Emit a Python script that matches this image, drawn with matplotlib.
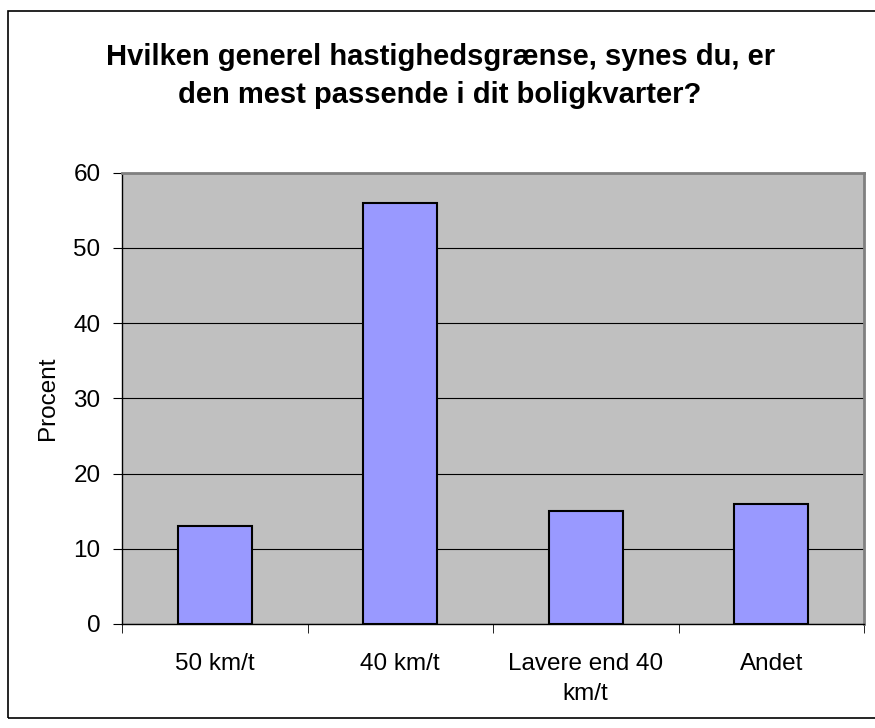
import matplotlib
matplotlib.use("Agg")
import matplotlib.pyplot as plt
from matplotlib.patches import Rectangle
import numpy as np

categories = ["50 km/t", "40 km/t", "Lavere end 40\nkm/t", "Andet"]
values = [13, 56, 15, 16]
yticks = [0, 10, 20, 30, 40, 50, 60]
title = "Hvilken generel hastighedsgrænse, synes du, er\nden mest passende i dit boligkvarter?"
ylabel = "Procent"

plt.rcParams['font.family'] = ['Liberation Sans', 'DejaVu Sans']

fig = plt.figure(figsize=(8.75, 7.28), dpi=100)
ax = fig.add_axes([122/875, 1-624/728, (864-122)/875, (624-172.5)/728])

x = np.arange(len(categories))
ax.set_facecolor('#C0C0C0')
ax.set_axisbelow(True)
ax.yaxis.grid(True, color='black', linewidth=0.8)
ax.bar(x, values, width=0.4, color='#9999FF', edgecolor='black', linewidth=1.5, zorder=3)

ax.set_xlim(-0.5, len(categories) - 0.5)
ax.set_ylim(0, 60)
ax.set_yticks(yticks)
ax.set_yticklabels([str(t) for t in yticks], fontsize=17.5)
ax.set_xticks(x)
ax.set_xticklabels(categories, fontsize=17.5, linespacing=1.45)
ax.tick_params(axis='x', length=0, pad=21)
ax.set_xticks(np.arange(-0.5, len(categories), 1), minor=True)
ax.tick_params(axis='x', which='minor', length=6.5, direction='out', color='black')
ax.tick_params(axis='y', length=6.5, direction='out', color='black', pad=9)

for s in ['top', 'right']:
    ax.spines[s].set_color('#808080')
    ax.spines[s].set_linewidth(2)
for s in ['left', 'bottom']:
    ax.spines[s].set_color('black')
    ax.spines[s].set_linewidth(1)

ax.set_ylabel(ylabel, fontsize=17.5, labelpad=10)

fig.text(0.503, 1-76/728, title, ha='center', va='center', fontsize=21,
         fontweight='bold', linespacing=1.45)

fig.patches.append(Rectangle((8/875, 1-718/728), 1.2, (718-11)/728,
                             transform=fig.transFigure, fill=False,
                             edgecolor='black', linewidth=1.2))

fig.savefig("out.png", dpi=100)
